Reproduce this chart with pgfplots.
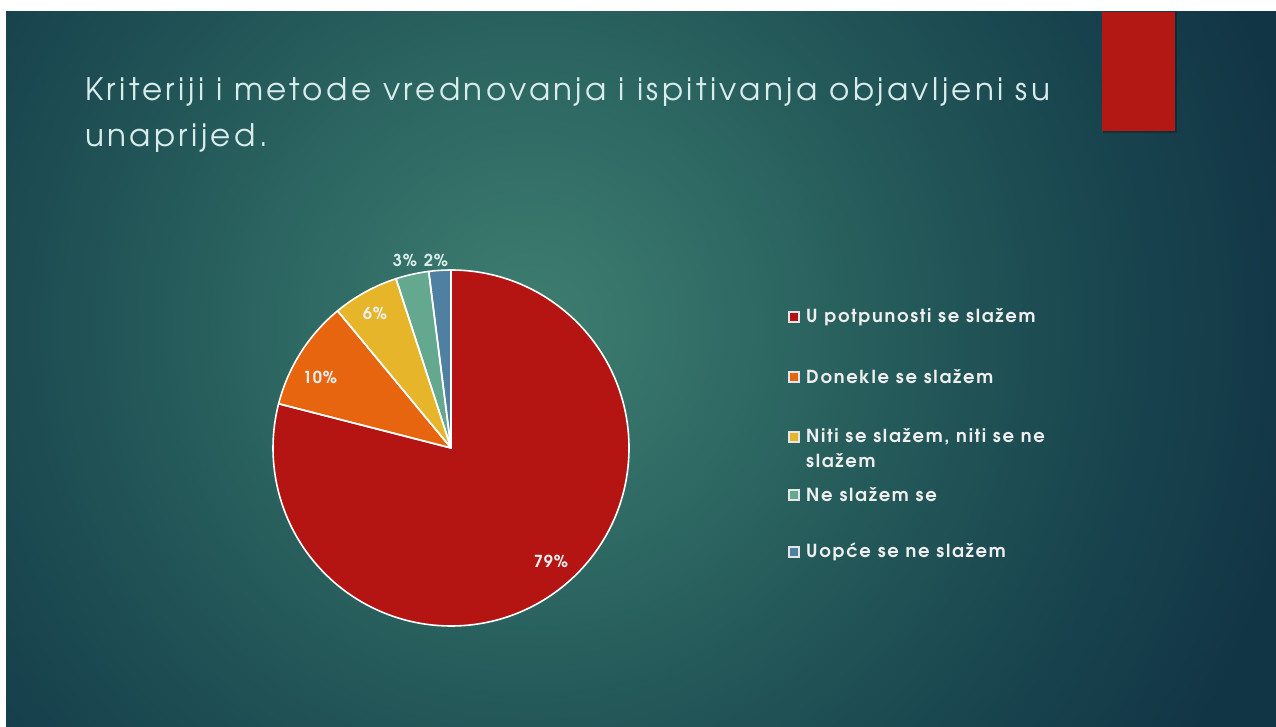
\documentclass[border=0pt]{standalone}
\usepackage{pgfplots}
\pgfplotsset{compat=1.18}
\usepackage{pgfplotstable}
\usepackage{fontspec}
\setmainfont{TeX Gyre Adventor}
\newfontfamily\titlefont[LetterSpace=11]{TeX Gyre Adventor}
\newfontfamily\legfont[LetterSpace=9.5]{TeX Gyre Adventor}
\newfontfamily\labfont[LetterSpace=5]{TeX Gyre Adventor}

\definecolor{bgA}{HTML}{3F7D70}
\definecolor{bgB}{HTML}{306C65}
\definecolor{bgC}{HTML}{235758}
\definecolor{bgD}{HTML}{18444E}
\definecolor{bgE}{HTML}{123545}
\definecolor{titlecol}{HTML}{D9ECEC}
\definecolor{legtext}{HTML}{EFEFEF}
\definecolor{cRed}{HTML}{B51512}
\definecolor{cOrange}{HTML}{E8650F}
\definecolor{cYellow}{HTML}{E6B52A}
\definecolor{cGreen}{HTML}{64A890}
\definecolor{cBlue}{HTML}{4F80A2}
\definecolor{rectRed}{HTML}{B31814}
\definecolor{legborder}{HTML}{E6E6E6}

% radius of the shaded circle corresponds to 25bp
\pgfdeclareradialshading{slidebg}{\pgfpoint{0bp}{0bp}}{color(0bp)=(bgA); color(5bp)=(bgB); color(10bp)=(bgC); color(15bp)=(bgD); color(19.5bp)=(bgE); color(50bp)=(bgE)}

\pgfplotstableread{
share
79
10
6
3
2
}\piedata

\begin{document}
\begin{tikzpicture}[x=1pt,y=1pt]
\pgfplotstablegetelem{0}{share}\of\piedata \let\vA\pgfplotsretval
\pgfplotstablegetelem{1}{share}\of\piedata \let\vB\pgfplotsretval
\pgfplotstablegetelem{2}{share}\of\piedata \let\vC\pgfplotsretval
\pgfplotstablegetelem{3}{share}\of\piedata \let\vD\pgfplotsretval
\pgfplotstablegetelem{4}{share}\of\piedata \let\vE\pgfplotsretval
\pgfmathsetmacro\aA{90}
\pgfmathsetmacro\aB{\aA-3.6*\vA}
\pgfmathsetmacro\aC{\aB-3.6*\vB}
\pgfmathsetmacro\aD{\aC-3.6*\vC}
\pgfmathsetmacro\aE{\aD-3.6*\vD}
\pgfmathsetmacro\aF{\aE-3.6*\vE}

% slide background
\fill[white] (0,0) rectangle (1276,726);
\begin{scope}
\clip (6,0) rectangle (1276,714);
\fill[bgE] (6,0) rectangle (1276,714);
\shade[shading=slidebg] (530,400) circle (1000);
\end{scope}

\begin{axis}[at={(0,0)}, anchor=south west, x=1pt, y=1pt,
  xmin=0, xmax=1276, ymin=0, ymax=726, hide axis, clip=false]

% red accent rectangle
\fill[black, opacity=0.25] (axis cs:1103,593) rectangle (axis cs:1177,714);
\fill[rectRed] (axis cs:1102,595) rectangle (axis cs:1175,714);

% title
\node[anchor=base west, text=titlecol, font=\titlefont\fontsize{31}{34}\selectfont, inner sep=0pt]
  at (axis cs:85,625) {Kriteriji i metode vrednovanja i ispitivanja objavljeni su};
\node[anchor=base west, text=titlecol, font=\titlefont\fontsize{31}{34}\selectfont, inner sep=0pt]
  at (axis cs:85,579) {unaprijed.};

% pie slices
\fill[cRed]    (axis cs:451,278) -- ++(\aA:178pt) arc[start angle=\aA, end angle=\aB, radius=178pt] -- cycle;
\fill[cOrange] (axis cs:451,278) -- ++(\aB:178pt) arc[start angle=\aB, end angle=\aC, radius=178pt] -- cycle;
\fill[cYellow] (axis cs:451,278) -- ++(\aC:178pt) arc[start angle=\aC, end angle=\aD, radius=178pt] -- cycle;
\fill[cGreen]  (axis cs:451,278) -- ++(\aD:178pt) arc[start angle=\aD, end angle=\aE, radius=178pt] -- cycle;
\fill[cBlue]   (axis cs:451,278) -- ++(\aE:178pt) arc[start angle=\aE, end angle=\aF, radius=178pt] -- cycle;
\draw[white, line width=1.6pt, line join=round] (axis cs:451,278) -- ++(\aA:178pt) arc[start angle=\aA, end angle=\aB, radius=178pt] -- cycle;
\draw[white, line width=1.6pt, line join=round] (axis cs:451,278) -- ++(\aB:178pt) arc[start angle=\aB, end angle=\aC, radius=178pt] -- cycle;
\draw[white, line width=1.6pt, line join=round] (axis cs:451,278) -- ++(\aC:178pt) arc[start angle=\aC, end angle=\aD, radius=178pt] -- cycle;
\draw[white, line width=1.6pt, line join=round] (axis cs:451,278) -- ++(\aD:178pt) arc[start angle=\aD, end angle=\aE, radius=178pt] -- cycle;
\draw[white, line width=1.6pt, line join=round] (axis cs:451,278) -- ++(\aE:178pt) arc[start angle=\aE, end angle=\aF, radius=178pt] -- cycle;

% data labels
\node[text=legtext, font=\labfont\fontsize{16.5}{18}\selectfont\bfseries] at (axis cs:551,165) {79\%};
\node[text=legtext, font=\labfont\fontsize{16.5}{18}\selectfont\bfseries] at (axis cs:320,349) {10\%};
\node[text=legtext, font=\labfont\fontsize{16.5}{18}\selectfont\bfseries] at (axis cs:375,413) {6\%};
\node[text=titlecol, font=\labfont\fontsize{16.5}{18}\selectfont\bfseries] at (axis cs:405,466) {3\%};
\node[text=titlecol, font=\labfont\fontsize{16.5}{18}\selectfont\bfseries] at (axis cs:436,466) {2\%};

% legend
\filldraw[fill=cRed, draw=legborder, line width=1.4pt]    (axis cs:789,404) rectangle (axis cs:799,414);
\filldraw[fill=cOrange, draw=legborder, line width=1.4pt] (axis cs:789,344) rectangle (axis cs:799,354);
\filldraw[fill=cYellow, draw=legborder, line width=1.4pt] (axis cs:789,284) rectangle (axis cs:799,294);
\filldraw[fill=cGreen, draw=legborder, line width=1.4pt]  (axis cs:789,226) rectangle (axis cs:799,236);
\filldraw[fill=cBlue, draw=legborder, line width=1.4pt]   (axis cs:789,169) rectangle (axis cs:799,179);
\node[anchor=west, text=legtext, font=\legfont\fontsize{18}{20}\selectfont\bfseries, inner sep=0pt] at (axis cs:806,409) {U potpunosti se slažem};
\node[anchor=west, text=legtext, font=\legfont\fontsize{18}{20}\selectfont\bfseries, inner sep=0pt] at (axis cs:806,349) {Donekle se slažem};
\node[anchor=west, text=legtext, font=\legfont\fontsize{18}{20}\selectfont\bfseries, inner sep=0pt] at (axis cs:806,289) {Niti se slažem, niti se ne};
\node[anchor=west, text=legtext, font=\legfont\fontsize{18}{20}\selectfont\bfseries, inner sep=0pt] at (axis cs:806,265) {slažem};
\node[anchor=west, text=legtext, font=\legfont\fontsize{18}{20}\selectfont\bfseries, inner sep=0pt] at (axis cs:806,231) {Ne slažem se};
\node[anchor=west, text=legtext, font=\legfont\fontsize{18}{20}\selectfont\bfseries, inner sep=0pt] at (axis cs:806,174) {Uopće se ne slažem};
\end{axis}
\end{tikzpicture}
\end{document}
